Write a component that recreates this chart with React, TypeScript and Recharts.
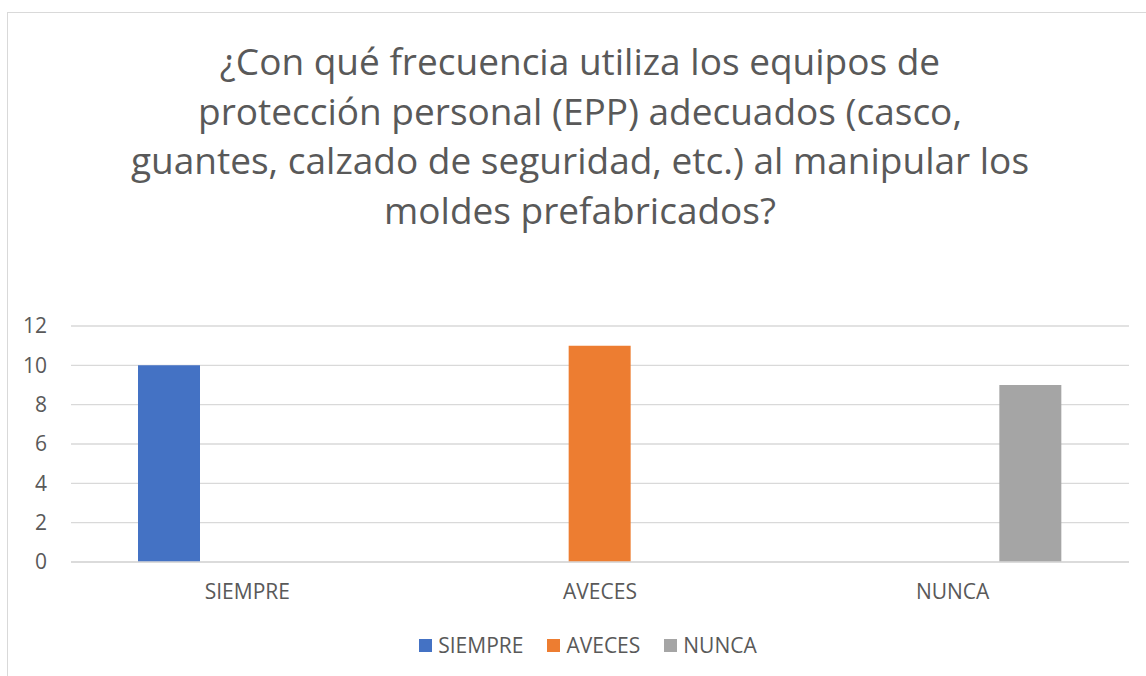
import React from "react";
import { BarChart, Bar, XAxis, YAxis, CartesianGrid, Legend } from "recharts";

const categories = ["SIEMPRE", "AVECES", "NUNCA"];
const siempreValues = [10, 0, 0];
const avecesValues = [0, 11, 0];
const nuncaValues = [0, 0, 9];
const yTicks = [0, 2, 4, 6, 8, 10, 12];
const titleLines = [
  "¿Con qué frecuencia utiliza los equipos de",
  "protección personal (EPP) adecuados (casco,",
  "guantes, calzado de seguridad, etc.) al manipular los",
  "moldes prefabricados?",
];
const series = [
  { key: "SIEMPRE", color: "#4472C4" },
  { key: "AVECES", color: "#ED7D31" },
  { key: "NUNCA", color: "#A5A5A5" },
];

const data = categories.map((c, i) => ({
  name: c,
  SIEMPRE: siempreValues[i],
  AVECES: avecesValues[i],
  NUNCA: nuncaValues[i],
}));

const FONT = "'Open Sans', sans-serif";
const TEXT = "#595959";

const LegendContent = () => (
  <div
    style={{
      display: "flex",
      justifyContent: "center",
      alignItems: "center",
      height: 24,
      fontFamily: FONT,
      fontSize: 21,
      color: TEXT,
      paddingLeft: 71,
    }}
  >
    {series.map((s) => (
      <div key={s.key} style={{ display: "flex", alignItems: "center", marginRight: 24 }}>
        <span style={{ width: 13, height: 13, background: s.color, display: "inline-block", marginRight: 6 }} />
        <span>{s.key}</span>
      </div>
    ))}
  </div>
);

export default function App() {
  return (
    <div style={{ position: "absolute", left: 0, top: 0, width: 1146, height: 676, background: "#fff", overflow: "hidden" }}>
      <div
        style={{
          position: "absolute",
          left: 7,
          top: 12,
          width: 1160,
          height: 700,
          border: "1.5px solid #d9d9d9",
          boxSizing: "border-box",
        }}
      />
      <div
        style={{
          position: "absolute",
          left: 0,
          top: 36,
          width: 1160,
          textAlign: "center",
          fontFamily: FONT,
          fontSize: 37,
          lineHeight: "49.5px",
          color: TEXT,
        }}
      >
        {titleLines.map((l, i) => (
          <div key={i}>{l}</div>
        ))}
      </div>
      <div style={{ position: "absolute", left: 0, top: 0 }}>
        <BarChart
          width={1146}
          height={676}
          data={data}
          margin={{ top: 326, right: 17, bottom: 19, left: 0 }}
          barSize={62}
          barGap={16}
        >
          <CartesianGrid vertical={false} stroke="#d9d9d9" strokeWidth={1.3} />
          <XAxis
            dataKey="name"
            height={71}
            tickLine={false}
            tickSize={0}
            tickMargin={22}
            axisLine={{ stroke: "#d9d9d9", strokeWidth: 1.3 }}
            tick={{ fill: TEXT, fontSize: 21, fontFamily: FONT }}
          />
          <YAxis
            width={71}
            domain={[0, 12]}
            ticks={yTicks}
            axisLine={false}
            tickLine={false}
            tickSize={0}
            tickMargin={24}
            tick={{ fill: TEXT, fontSize: 21, fontFamily: FONT }}
          />
          <Legend verticalAlign="bottom" content={<LegendContent />} />
          {series.map((s) => (
            <Bar key={s.key} dataKey={s.key} fill={s.color} isAnimationActive={false} />
          ))}
        </BarChart>
      </div>
    </div>
  );
}
